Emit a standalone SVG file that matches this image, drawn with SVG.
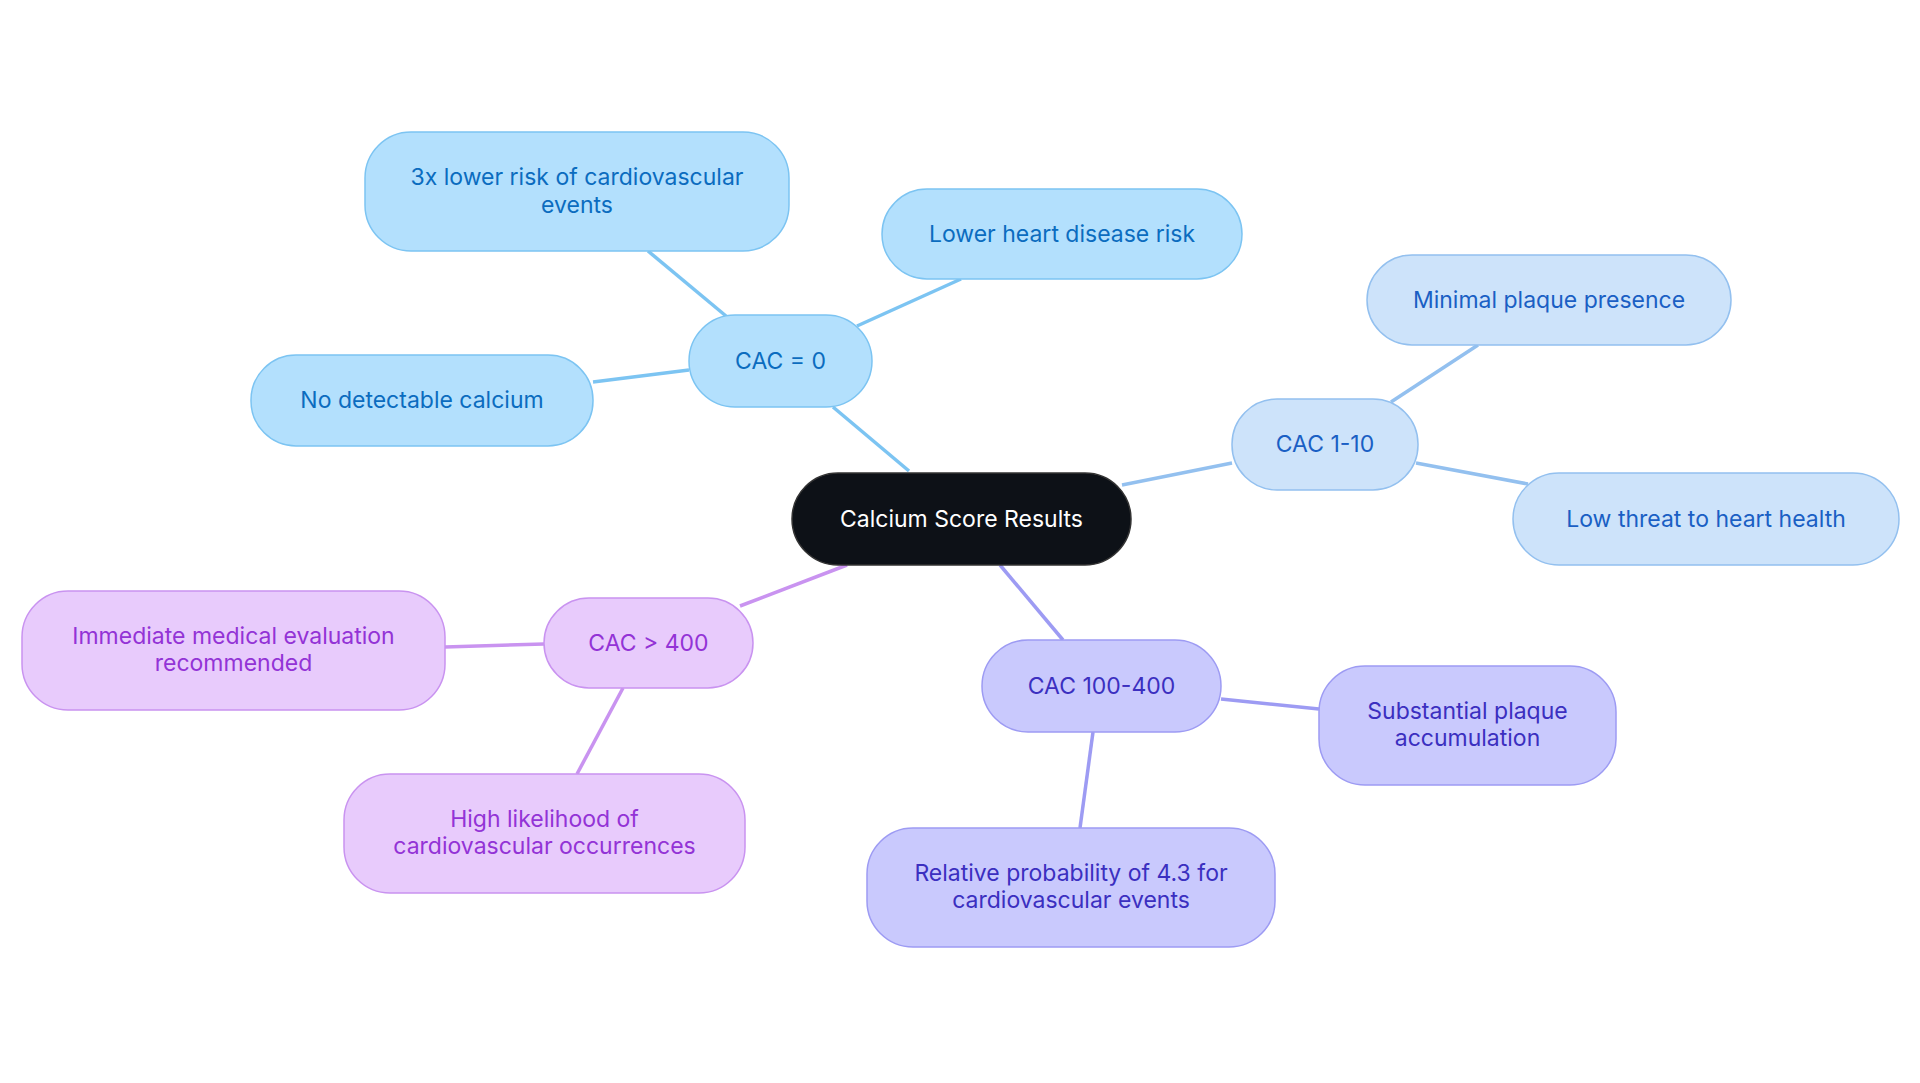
<svg xmlns="http://www.w3.org/2000/svg" width="1920" height="1083" viewBox="0 0 1920 1083">
<style>
text{font-family:Inter,"Noto Sans",sans-serif;font-size:23px;text-anchor:middle;dominant-baseline:central}
.b rect{fill:#b3e0fd;stroke:#7cc4f2;stroke-width:1.5}.b text{fill:#0b6cbf}
.c rect{fill:#cde3fa;stroke:#93c0ef;stroke-width:1.5}.c text{fill:#1a5fc4}
.p rect{fill:#c9c9fd;stroke:#9d9bf3;stroke-width:1.5}.p text{fill:#3b2fc0}
.v rect{fill:#e8cbfc;stroke:#c993f0;stroke-width:1.5}.v text{fill:#9333d6}
line{stroke-width:3.5;fill:none}
</style>
<rect width="1920" height="1083" fill="#fff"/>
<g id="connectors">
<line x1="909" y1="471" x2="833" y2="407" stroke="#7cc4f2"/>
<line x1="726" y1="316" x2="648" y2="251" stroke="#7cc4f2"/>
<line x1="857" y1="326" x2="961" y2="279" stroke="#7cc4f2"/>
<line x1="689" y1="370" x2="593" y2="382" stroke="#7cc4f2"/>
<line x1="1122" y1="485" x2="1232" y2="463" stroke="#93c0ef"/>
<line x1="1391" y1="402" x2="1478" y2="345" stroke="#93c0ef"/>
<line x1="1416" y1="463" x2="1528" y2="484" stroke="#93c0ef"/>
<line x1="847" y1="565" x2="740" y2="606" stroke="#c993f0"/>
<line x1="544" y1="644" x2="445" y2="647" stroke="#c993f0"/>
<line x1="623" y1="688" x2="577" y2="774" stroke="#c993f0"/>
<line x1="1000" y1="565" x2="1063" y2="640" stroke="#9d9bf3"/>
<line x1="1221" y1="699" x2="1319" y2="709" stroke="#9d9bf3"/>
<line x1="1093" y1="732" x2="1080" y2="828" stroke="#9d9bf3"/>
</g>
<g id="root"><rect x="792" y="473" width="339" height="92" rx="46" fill="#0d1117" stroke="#333" stroke-width="1.5"/><text x="961.5" y="519" fill="#fff">Calcium Score Results</text></g>
<g id="cac0" class="b"><rect x="689" y="315" width="183" height="92" rx="46"/><text x="780.5" y="361">CAC = 0</text></g>
<g id="n3x" class="b"><rect x="365" y="132" width="424" height="119" rx="46"/><text x="577" y="177">3x lower risk of cardiovascular</text><text x="577" y="205">events</text></g>
<g id="lower" class="b"><rect x="882" y="189" width="360" height="90" rx="45"/><text x="1062" y="234">Lower heart disease risk</text></g>
<g id="nodet" class="b"><rect x="251" y="355" width="342" height="91" rx="45"/><text x="422" y="400">No detectable calcium</text></g>
<g id="cac110" class="c"><rect x="1232" y="399" width="186" height="91" rx="45"/><text x="1325" y="444">CAC 1-10</text></g>
<g id="minimal" class="c"><rect x="1367" y="255" width="364" height="90" rx="45"/><text x="1549" y="300">Minimal plaque presence</text></g>
<g id="lowthreat" class="c"><rect x="1513" y="473" width="386" height="92" rx="46"/><text x="1706" y="519">Low threat to heart health</text></g>
<g id="cac400" class="v"><rect x="544" y="598" width="209" height="90" rx="45"/><text x="648.5" y="643">CAC &gt; 400</text></g>
<g id="immediate" class="v"><rect x="22" y="591" width="423" height="119" rx="46"/><text x="233.5" y="636">Immediate medical evaluation</text><text x="233.5" y="663">recommended</text></g>
<g id="high" class="v"><rect x="344" y="774" width="401" height="119" rx="46"/><text x="544.5" y="819">High likelihood of</text><text x="544.5" y="846">cardiovascular occurrences</text></g>
<g id="cac100" class="p"><rect x="982" y="640" width="239" height="92" rx="46"/><text x="1101.5" y="686">CAC 100-400</text></g>
<g id="subst" class="p"><rect x="1319" y="666" width="297" height="119" rx="46"/><text x="1467.5" y="711">Substantial plaque</text><text x="1467.5" y="738">accumulation</text></g>
<g id="relative" class="p"><rect x="867" y="828" width="408" height="119" rx="46"/><text x="1071" y="873">Relative probability of 4.3 for</text><text x="1071" y="900">cardiovascular events</text></g>
</svg>
